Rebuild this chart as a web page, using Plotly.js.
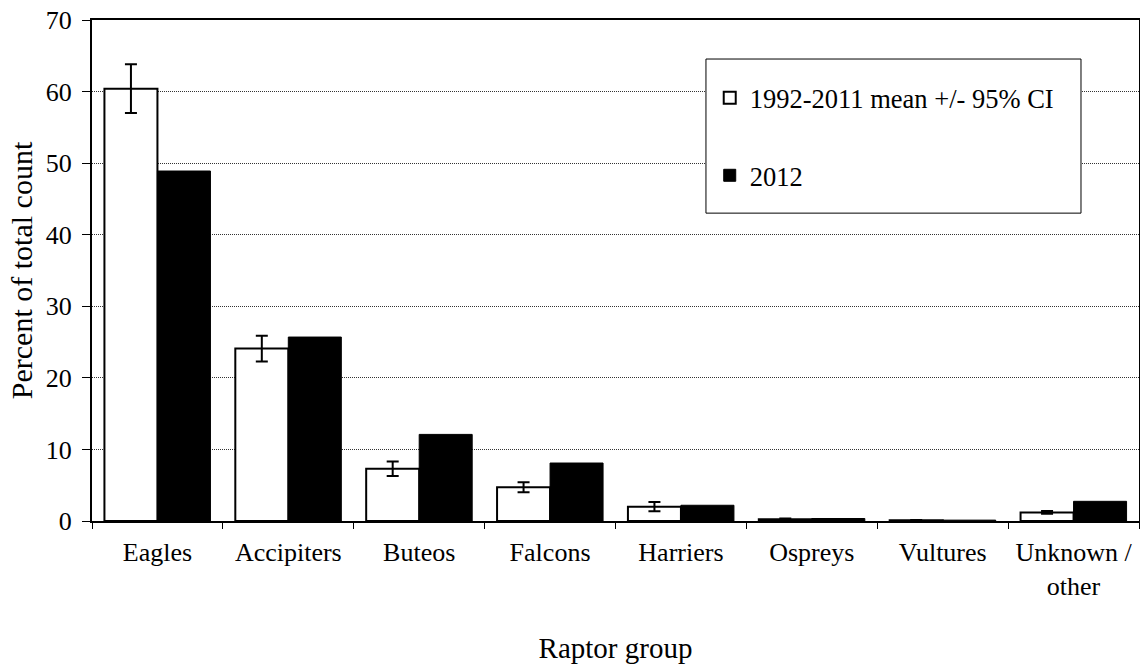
<!DOCTYPE html>
<html>
<head>
<meta charset="utf-8">
<script src="https://cdn.plot.ly/plotly-3.0.1.min.js"></script>
<style>
  html, body { margin: 0; padding: 0; background: #fff; }
  #chart { width: 1140px; height: 669px; }
</style>
</head>
<body>
<div id="chart"></div>
<script>
// Raptor groups on the x axis
const categories = ['Eagles', 'Accipiters', 'Buteos', 'Falcons', 'Harriers', 'Ospreys', 'Vultures', 'Unknown /<br>other'];
// 1992-2011 mean share of total count (%) and its 95% CI half-width
const meanPct = [60.4, 24.1, 7.3, 4.7, 2.0, 0.25, 0.1, 1.2];
const ci95 = [3.4, 1.8, 1.0, 0.7, 0.65, 0.1, 0.05, 0.2];
// 2012 share of total count (%)
const pct2012 = [48.9, 25.7, 12.1, 8.1, 2.2, 0.35, 0.12, 2.75];
const yTicks = [0, 10, 20, 30, 40, 50, 60, 70];

const serif = "'Liberation Serif', 'Times New Roman', serif";

const traces = [
  {
    type: 'bar',
    name: '1992-2011 mean +/- 95% CI',
    x: categories,
    y: meanPct,
    legendgroup: 'a',
    marker: { color: '#ffffff', line: { color: '#000', width: 2 } },
    error_y: { type: 'data', array: ci95, visible: true, color: '#000', thickness: 2, width: 6 }
  },
  {
    type: 'bar',
    name: '2012',
    x: categories,
    y: pct2012,
    legendgroup: 'b',
    marker: { color: '#000000', line: { color: '#000', width: 1 } }
  }
];

const layout = {
  width: 1140,
  height: 669,
  margin: { l: 92, r: 1, t: 20, b: 148 },
  paper_bgcolor: '#fff',
  plot_bgcolor: '#fff',
  font: { family: serif, size: 26, color: '#000' },
  barmode: 'group',
  bargap: 0.19,
  bargroupgap: 0,
  showlegend: true,
  legend: {
    x: 0.590, y: 0.892, xanchor: 'left', yanchor: 'top',
    bgcolor: 'rgba(0,0,0,0)', borderwidth: 0,
    font: { family: serif, size: 26.5, color: '#000' },
    traceorder: 'grouped', tracegroupgap: 40
  },
  shapes: [
    // legend frame
    {
      type: 'rect', xref: 'paper', yref: 'paper',
      x0: 0.5864, x1: 0.9446, y0: 0.6145, y1: 0.9221,
      fillcolor: '#fff', line: { color: '#000', width: 1 }, layer: 'above'
    }
  ],
  xaxis: {
    type: 'category',
    showline: true, linecolor: '#000', linewidth: 2, mirror: true,
    ticks: 'outside', ticklen: 6, tickwidth: 1, tickcolor: '#000',
    tickson: 'boundaries',
    ticklabelstandoff: 7,
    tickfont: { family: serif, size: 26 },
    title: { text: 'Raptor group', font: { family: serif, size: 29 }, standoff: 38 },
    showgrid: false, zeroline: false
  },
  yaxis: {
    range: [0, 70],
    tickvals: yTicks,
    showline: true, linecolor: '#000', linewidth: 2, mirror: true,
    ticks: 'outside', ticklen: 8, tickwidth: 1, tickcolor: '#000',
    ticklabelstandoff: 5,
    tickfont: { family: serif, size: 26 },
    showgrid: true, gridcolor: '#333', gridwidth: 1, griddash: '1px,1px',
    zeroline: false,
    title: { text: 'Percent of total count', font: { family: serif, size: 30 }, standoff: 4 }
  }
};

Plotly.newPlot('chart', traces, layout, { displayModeBar: false, staticPlot: true });
</script>
</body>
</html>
